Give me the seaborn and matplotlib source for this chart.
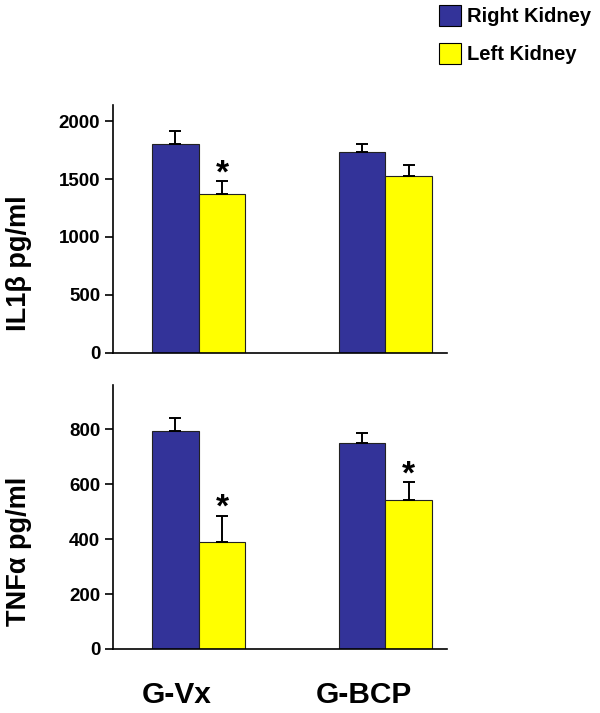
import matplotlib
matplotlib.use("Agg")
import matplotlib.pyplot as plt
import matplotlib.transforms as mtransforms
from matplotlib.patches import Patch
from matplotlib.container import BarContainer
import seaborn as sns
import pandas as pd

groups = ["G-Vx", "G-BCP"]
kidneys = ["Right Kidney", "Left Kidney"]
il1b_right = [1800, 1730]
il1b_left = [1370, 1530]
il1b_right_err = [115, 70]
il1b_left_err = [115, 90]
tnfa_right = [794, 751]
tnfa_left = [390, 542]
tnfa_right_err = [46, 34]
tnfa_left_err = [95, 65]
il1b_right_sig = [False, False]
il1b_left_sig = [True, False]
tnfa_right_sig = [False, False]
tnfa_left_sig = [True, True]
colors = ["#333399", "#FFFF00"]

sns.set_style("white")
plt.rcParams['font.family'] = ['Liberation Sans', 'DejaVu Sans']
plt.rcParams['text.color'] = 'black'
plt.rcParams['axes.labelcolor'] = 'black'
plt.rcParams['xtick.color'] = 'black'
plt.rcParams['ytick.color'] = 'black'

fig = plt.figure(figsize=(6.0, 7.13), dpi=100)
ax1 = fig.add_axes([0.188, 0.505, 0.557, 0.348])
ax2 = fig.add_axes([0.188, 0.0898, 0.557, 0.370])


def panel(ax, right, left, rerr, lerr, rsig, lsig, ylabel, yticks, ymax,
          label_y, show_x):
    df = pd.DataFrame({
        "group": groups * 2,
        "kidney": [kidneys[0]] * 2 + [kidneys[1]] * 2,
        "value": right + left,
    })
    sns.barplot(data=df, x="group", y="value", hue="kidney", order=groups,
                hue_order=kidneys, palette=colors, errorbar=None, width=0.5,
                edgecolor="#222222", linewidth=0.8, gap=0, ax=ax, legend=False,
                saturation=1)
    errs = [rerr, lerr]
    sigs = [rsig, lsig]
    bar_conts = [c for c in ax.containers if isinstance(c, BarContainer)]
    for hi, cont in enumerate(bar_conts):
        for gi, bar in enumerate(cont.patches):
            x = bar.get_x() + bar.get_width() / 2
            y = bar.get_height()
            e = errs[hi][gi]
            ax.errorbar([x], [y], yerr=[[0], [e]], fmt="none", ecolor="black",
                        elinewidth=1.4, capsize=4, capthick=1.4, zorder=3)
            if sigs[hi][gi]:
                ax.annotate("*", xy=(x, y + e), xytext=(0, -6),
                            textcoords="offset points", ha="center",
                            va="bottom", fontsize=24, fontweight="bold",
                            color="black")
    ax.set_ylim(0, ymax)
    ax.set_xlim(-0.46, 1.33)
    ax.set_yticks(yticks)
    ax.set_ylabel(ylabel, fontsize=19.5, fontweight="bold", color="black")
    ax.yaxis.set_label_coords(-0.243, label_y)
    ax.set_xlabel("")
    for lab in ax.get_yticklabels():
        lab.set_fontweight("bold")
        lab.set_fontsize(13.5)
    ax.tick_params(axis="y", left=True, length=6, width=1.2, color="black",
                   labelcolor="black", pad=3)
    ax.tick_params(axis="x", bottom=False, length=0, labelcolor="black")
    sns.despine(ax=ax)
    for s in ["left", "bottom"]:
        ax.spines[s].set_color("black")
        ax.spines[s].set_linewidth(1.2)
    if show_x:
        ax.set_xticks(range(len(groups)))
        ax.set_xticklabels(groups, fontsize=21.5, fontweight="bold")
        off = mtransforms.ScaledTranslation(-22 / 100, -27 / 100, fig.dpi_scale_trans)
        for lab in ax.get_xticklabels():
            lab.set_transform(lab.get_transform() + off)
    else:
        ax.set_xticklabels([])


panel(ax1, il1b_right, il1b_left, il1b_right_err, il1b_left_err,
      il1b_right_sig, il1b_left_sig,
      "IL1β pg/ml", [0, 500, 1000, 1500, 2000], 2140, 0.363, False)
panel(ax2, tnfa_right, tnfa_left, tnfa_right_err, tnfa_left_err,
      tnfa_right_sig, tnfa_left_sig,
      "TNFα pg/ml", [0, 200, 400, 600, 800], 960, 0.371, True)

handles = [Patch(facecolor=c, edgecolor="black", linewidth=0.8) for c in colors]
fig.legend(handles, kidneys, loc="upper left", bbox_to_anchor=(0.732, 0.993),
           frameon=False, prop={"weight": "bold", "size": 14.5},
           handlelength=1.1, handleheight=1.25, handletextpad=0.3,
           labelspacing=0.8, borderpad=0, borderaxespad=0,
           labelcolor="black")

fig.savefig("out.png", dpi=100)
